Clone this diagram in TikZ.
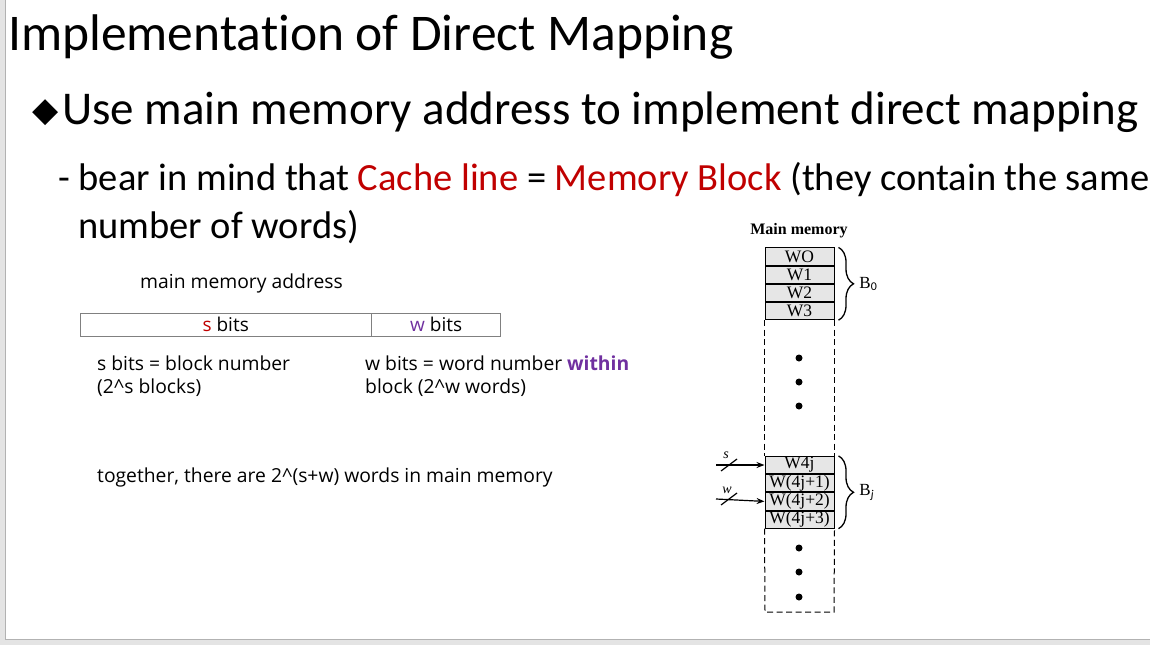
\documentclass[tikz,border=0pt]{standalone}
\usepackage{fontspec}
\setmainfont[Ligatures=NoCommon]{Carlito}
\newfontfamily\comic{Open Sans}
\newfontfamily\tmr{Liberation Serif}
\usepackage{xcolor}
\usetikzlibrary{arrows.meta, positioning, calc, decorations.pathreplacing}
\definecolor{slidered}{HTML}{C00000}
\definecolor{slidepurple}{HTML}{7030A0}
\definecolor{cellgray}{HTML}{E6E6E6}
\definecolor{bandgray}{HTML}{E4E4E4}

\begin{document}
\begin{tikzpicture}[
      x=1pt, y=-1pt,
      txt/.style={anchor=base west, inner sep=0pt},
      ctxt/.style={txt, font=\comic\fontsize{19.3}{23}\selectfont, align=left},
      field/.style={draw=gray, minimum height=23pt, inner sep=0pt, anchor=north west, font=\comic\fontsize{19}{19}\selectfont},
      cell/.style={draw, line width=1pt, fill=cellgray, minimum width=69pt, minimum height=17.2pt, inner sep=0pt, font=\tmr\fontsize{17.5}{17.5}\selectfont},
      wall/.style={line width=1pt, dash pattern=on 6pt off 3.5pt},
      brc/.style={decorate, decoration={brace, amplitude=15pt, aspect=0.5}, line width=1.3pt},
      blbl/.style={midway, right=17pt, font=\tmr\fontsize{17}{17}\selectfont},
      busarrow/.style={-{Stealth[length=8pt, width=6pt]}, line width=1.2pt},
      buslbl/.style={font=\tmr\itshape\fontsize{14}{14}\selectfont, inner sep=0pt},
      dot/.style={circle, fill, inner sep=0pt, minimum size=7pt}
    ]
      \useasboundingbox (0,0) rectangle (1150,645);
      % slide background
      \fill[bandgray] (0,0) rectangle (1150,645);
      \filldraw[fill=white, draw=gray!60] (5,-2) rectangle (1152,639.5);

      % slide text
      \node[txt, font=\fontsize{51.5}{51.5}\selectfont] (title) at (8,50) {Implementation of Direct Mapping};
      \node[txt, font=\fontsize{34}{34}\selectfont] (diam) at (32,124) {\fontspec{DejaVu Sans}\raisebox{3pt}{◆}};
      \node[txt, font=\fontsize{47}{47}\selectfont] (bullet) at (62,124) {Use main memory address to implement direct mapping};
      \node[txt, font=\fontsize{38.5}{38.5}\selectfont] (note) at (58,190) {- bear in mind that \textcolor{slidered}{Cache line} = \textcolor{slidered}{Memory Block} (they contain the same};
      \node[txt, font=\fontsize{38.5}{38.5}\selectfont] (note2) at (78,238) {number of words)};

      % address format
      \node[ctxt] (addrlbl) at (140,288) {main memory address};
      \node[field, minimum width=291pt] (sfield) at (80,313) {\textcolor{slidered}{s} bits};
      \node[field, minimum width=129pt] (wfield) at (sfield.north east) {\textcolor{slidepurple}{w} bits};
      \node[ctxt] (sdesc) at (97,393) {s bits = block number\\(2\^{}s blocks)};
      \node[ctxt] (wdesc) at (365,393) {w bits = word number \textcolor{slidepurple}{\bfseries within}\\block (2\^{}w words)};
      \node[ctxt] (total) at (97,482) {together, there are 2\^{}(s+w) words in main memory};

      % main memory
      \node[font=\tmr\bfseries\fontsize{16}{16}\selectfont, inner sep=0pt] (memlbl) at (799,231) {Main memory};
      \node[cell] (w0) at (799.5,256.5) {WO};
      \node[cell, below=0pt of w0] (w1) {W1};
      \node[cell, below=0pt of w1] (w2) {W2};
      \node[cell, below=0pt of w2] (w3) {W3};
      \node[cell] (w4j) at (799.5,465) {W4j};
      \node[cell, below=0pt of w4j] (w41) {W(4j+1)};
      \node[cell, below=0pt of w41] (w42) {W(4j+2)};
      \node[cell, below=0pt of w42] (w43) {W(4j+3)};
      \draw[wall] (w3.south west) -- (w4j.north west);
      \draw[wall] (w3.south east) -- (w4j.north east);
      \draw[wall] (w43.south west) -- (765,612) -- (834,612) -- (w43.south east);
      \node[dot] (d1) at (799,358) {};
      \node[dot] (d2) at (799,382) {};
      \node[dot] (d3) at (799,406) {};
      \node[dot] (d4) at (799,548) {};
      \node[dot] (d5) at (799,572) {};
      \node[dot] (d6) at (799,597) {};

      % block braces
      \draw[brc] ([xshift=4pt]w0.north east) -- ([xshift=4pt]w3.south east) node[blbl] (b0) {B$_{\mathrm{0}}$};
      \draw[brc] ([xshift=4pt]w4j.north east) -- ([xshift=4pt]w43.south east) node[blbl] (bj) {B$_{\mathit{j}}$};

      % address lines
      \coordinate (sin) at (716,465);
      \coordinate (win) at (716,499);
      \draw[busarrow] (sin) -- (w4j.west);
      \draw[busarrow] (win) -- (w42.west);
      \draw[line width=1.2pt] ($(sin)+(5,6)$) -- ++(16,-12);
      \draw[line width=1.2pt] ($(win)+(5,6)$) -- ++(16,-12);
      \node[buslbl] (slbl) at (726,455) {s};
      \node[buslbl] (wlbl) at (727,490) {w};
    \end{tikzpicture}
\end{document}
